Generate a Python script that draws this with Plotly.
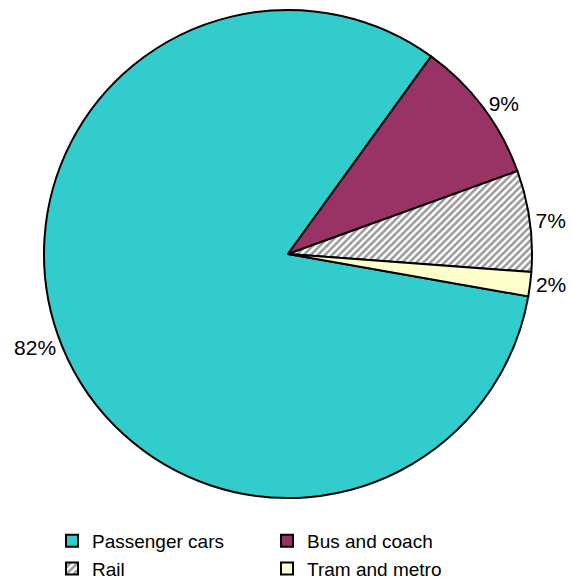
import plotly.graph_objects as go

categories = ["Passenger cars", "Bus and coach", "Rail", "Tram and metro"]
values = [82.2, 9.5, 6.7, 1.6]
text_labels = ["82%", "9%", "7%", "2%"]
colors = ["#33CCCC", "#993366", "#FFFFFF", "#FFFFCC"]

W, H = 573, 585
cx, cy, r = 288, 254, 244

fig = go.Figure(go.Pie(
    labels=categories,
    values=values,
    text=text_labels,
    textinfo="text",
    textposition="outside",
    sort=False,
    direction="clockwise",
    rotation=100,
    marker=dict(
        colors=colors,
        line=dict(color="black", width=2),
        pattern=dict(
            shape=["", "", "/", ""],
            fgcolor="#999999",
            bgcolor="#FFFFFF",
            size=5,
            solidity=0.5,
        ),
    ),
    textfont=dict(family="Liberation Sans, Arial", size=21, color="black"),
    domain=dict(x=[(cx - r) / W, (cx + r) / W], y=[1 - (cy + r) / H, 1 - (cy - r) / H]),
    automargin=False,
    showlegend=True,
))

fig.update_layout(
    width=W, height=H,
    margin=dict(l=0, r=0, t=0, b=0, autoexpand=False),
    paper_bgcolor="white",
    plot_bgcolor="white",
    font=dict(family="Liberation Sans, Arial", size=19, color="black"),
    legend=dict(
        orientation="h",
        x=52 / W, xanchor="left",
        y=1 - 522 / H, yanchor="top",
        entrywidth=170, entrywidthmode="pixels",
        font=dict(size=19),
        traceorder="normal",
        itemclick=False,
    ),
)

fig.write_html("out.html")
